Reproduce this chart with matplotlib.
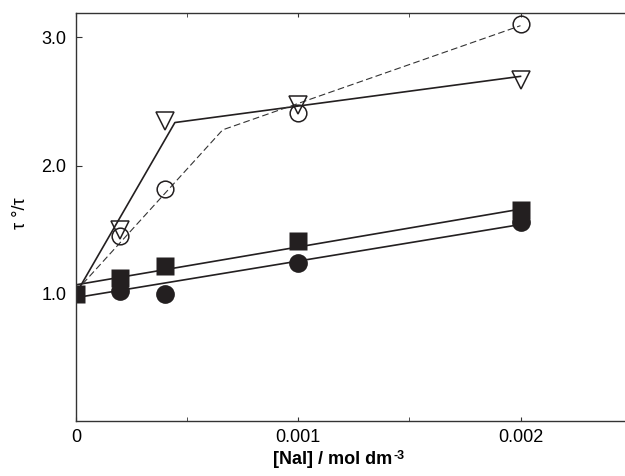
import matplotlib
matplotlib.use("Agg")
import matplotlib.pyplot as plt
from matplotlib.ticker import FixedLocator

plt.rcParams["font.family"] = ["Liberation Sans", "DejaVu Sans"]

# measured points
conc = [0, 0.0002, 0.0004, 0.001, 0.002]
sq_vals = [1.00, 1.12, 1.22, 1.41, 1.65]
fc_vals = [1.02, 1.00, 1.24, 1.56]
oc_vals = [1.45, 1.82, 2.41, 3.10]
tri_vals = [1.50, 2.35, 2.47, 2.67]

# fitted lines
lin_x = [0, 0.002]
sq_fit = [1.07, 1.66]
fc_fit = [0.97, 1.54]
tri_fit_x = [0, 0.000445, 0.002]
tri_fit = [1.00, 2.335, 2.695]
oc_fit_x = [0, 0.00066, 0.002]
oc_fit = [1.02, 2.278, 3.09]

ink = "#231f20"

fig = plt.figure(figsize=(6.25, 4.76), dpi=100)
ax = fig.add_axes([0.1216, 0.116, 0.889, 0.857])

ax.plot(lin_x, sq_fit, color=ink, lw=1.2)
ax.plot(lin_x, fc_fit, color=ink, lw=1.2)
ax.plot(tri_fit_x, tri_fit, color=ink, lw=1.2)
ax.plot(oc_fit_x, oc_fit, color="#333333", lw=0.8, ls=(0, (6, 3)))

ax.plot(conc, sq_vals, "s", color=ink, ms=12.5, mec="none")
ax.plot(conc[1:], fc_vals, "o", color=ink, ms=13.5, mec="none")
ax.plot(conc[1:], oc_vals, "o", ms=12, mfc="none", mec=ink, mew=1.1)
ax.plot(conc[1:], tri_vals, "v", ms=12.5, mfc="none", mec=ink, mew=1.1)

ax.set_xlim(0, 0.0025)
ax.set_ylim(0.01, 3.19)
ax.xaxis.set_major_locator(FixedLocator([0, 0.001, 0.002]))
ax.xaxis.set_minor_locator(FixedLocator([0.0005, 0.0015, 0.0025]))
ax.set_xticklabels(["0", "0.001", "0.002"])
ax.yaxis.set_major_locator(FixedLocator([1.0, 2.0, 3.0]))
ax.set_yticklabels(["1.0", "2.0", "3.0"])

ax.tick_params(axis="both", which="both", direction="in", top=True,
               colors="#333333", labelcolor="black", labelsize=13)
ax.tick_params(axis="x", which="major", length=3, pad=6)
ax.tick_params(axis="x", which="minor", length=3)
ax.tick_params(axis="y", which="major", length=4, pad=7)

for s in ["left", "bottom", "top"]:
    ax.spines[s].set_color("#333333")
    ax.spines[s].set_linewidth(1.0)
ax.spines["right"].set_visible(False)

xl = ax.set_xlabel("[NaI] / mol dm", fontsize=13, fontweight="bold")
ax.xaxis.set_label_coords(0.462, -0.074)
ax.annotate("-3", xy=(1.0, 1.0), xycoords=xl, xytext=(1, 1), textcoords="offset points",
            ha="left", va="top", fontsize=9, fontweight="bold")
ax.set_ylabel("τ °/τ", fontsize=13)
ax.yaxis.set_label_coords(-0.085, 0.51)

fig.savefig("out.png", dpi=100)
